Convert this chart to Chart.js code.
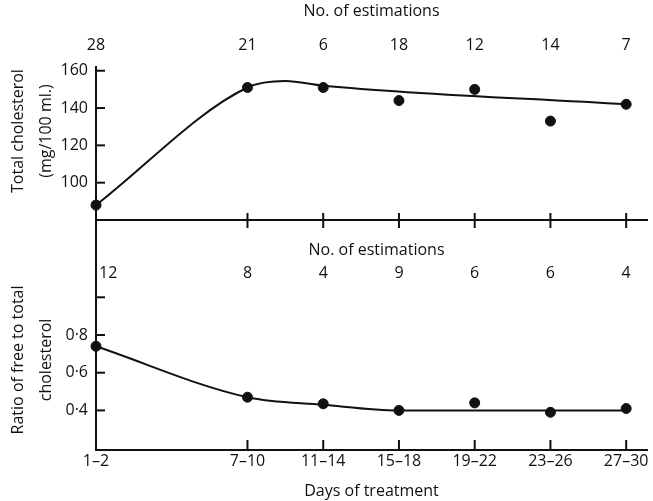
<!DOCTYPE html>
<html>
<head>
<meta charset="utf-8">
<script src="https://cdn.jsdelivr.net/npm/chart.js@4"></script>
<style>
  body { margin: 0; background: #fff; }
  #wrap { position: relative; width: 653px; height: 501px; }
  canvas { position: absolute; left: 0; top: 0; }
</style>
</head>
<body>
<div id="wrap">
  <canvas id="upper" width="653" height="501"></canvas>
  <canvas id="lower" width="653" height="501"></canvas>
</div>
<script>
// Day groups on a linear day axis, and their labels
const days = [0.5, 8.5, 12.5, 16.5, 20.5, 24.5, 28.5];
const dayLabels = ['1–2', '7–10', '11–14', '15–18', '19–22', '23–26', '27–30'];

// Upper panel: total cholesterol (mg/100 ml.)
const totalChol = [88, 151, 151, 144, 150, 133, 142];
const totalCount = [28, 21, 6, 18, 12, 14, 7];
const totalFitDays = [0.5, 8.5, 10.5, 12.5, 28.5];
const totalFit = [88, 151, 154.5, 152, 142];
const totalTicks = [100, 120, 140, 160];

// Lower panel: ratio of free to total cholesterol
const ratio = [0.74, 0.47, 0.435, 0.40, 0.44, 0.39, 0.41];
const ratioCount = [12, 8, 4, 9, 6, 6, 4];
const ratioFitDays = [0.5, 8.5, 12.5, 16.5, 28.5];
const ratioFit = [0.74, 0.47, 0.43, 0.40, 0.40];
const ratioTicks = [0.4, 0.6, 0.8, 1.0];

const ink = '#111';
const fam = "'Open Sans'";
const font = { family: fam, size: 16 };
Chart.defaults.color = ink;
Chart.defaults.font.family = fam;

const pts = (xs, ys) => xs.map((x, i) => ({ x, y: ys[i] }));

// short tick marks drawn inside the frame, like the printed figure
const innerTicks = {
  id: 'innerTicks',
  afterDraw(chart, args, opts) {
    const { ctx, chartArea, scales } = chart;
    ctx.save();
    ctx.strokeStyle = ink;
    ctx.lineWidth = 2;
    scales.y.ticks.forEach(t => {
      const py = scales.y.getPixelForValue(t.value);
      ctx.beginPath();
      ctx.moveTo(chartArea.left, py);
      ctx.lineTo(chartArea.left + 9, py);
      ctx.stroke();
    });
    days.slice(1).forEach(d => {
      const px = scales.x.getPixelForValue(d);
      ctx.beginPath();
      ctx.moveTo(px, chartArea.bottom + opts.below);
      ctx.lineTo(px, chartArea.bottom - opts.above);
      ctx.stroke();
    });
    if (opts.counts) {
      ctx.fillStyle = ink;
      ctx.font = "16px " + fam;
      ctx.textAlign = 'center';
      ctx.textBaseline = 'middle';
      ctx.fillText('No. of estimations', (chartArea.left + chartArea.right) / 2 + 5, chartArea.top + 30);
      opts.counts.forEach((c, i) => {
        const px = scales.x.getPixelForValue(days[i]);
        ctx.textAlign = i == 0 ? 'left' : 'center';
        ctx.fillText(String(c), i == 0 ? px + 3 : px, chartArea.top + 53);
      });
    }
    ctx.restore();
  }
};

const dots = (xs, ys) => ({
  data: pts(xs, ys),
  showLine: false,
  clip: false,
  pointRadius: 5,
  pointBackgroundColor: ink,
  pointBorderColor: ink,
});
const fit = (xs, ys) => ({
  data: pts(xs, ys),
  borderColor: ink,
  borderWidth: 2,
  pointRadius: 0,
  clip: false,
  cubicInterpolationMode: 'monotone',
});

const frame = { display: true, color: ink, width: 2 };
const noGrid = { display: false, drawTicks: false };
const titleFont = { family: fam, size: 16, lineHeight: 1.75 };

new Chart(document.getElementById('upper'), {
  type: 'line',
  data: { datasets: [fit(totalFitDays, totalFit), dots(days, totalChol)] },
  options: {
    responsive: false,
    animation: false,
    layout: { padding: { left: 0, right: 1, top: 0, bottom: 281 } },
    plugins: {
      legend: { display: false },
      tooltip: { enabled: false },
      innerTicks: { below: 8, above: 7 }
    },
    scales: {
      x: {
        type: 'linear',
        position: 'top',
        min: 0.5,
        max: 29.6,
        afterBuildTicks: s => { s.ticks = days.map(v => ({ value: v })); },
        afterFit: s => { s.height = 67; },
        ticks: { font, maxRotation: 0, autoSkip: false, padding: 12, callback: (v, i) => totalCount[i] },
        grid: noGrid,
        border: { display: false },
        title: { display: true, text: 'No. of estimations', font, padding: { top: 2, bottom: 0 } }
      },
      xb: {
        type: 'linear',
        position: 'bottom',
        min: 0.5,
        max: 29.6,
        afterFit: s => { s.height = 0; },
        ticks: { display: false },
        grid: noGrid,
        border: frame
      },
      y: {
        min: 80,
        max: 162,
        afterBuildTicks: s => { s.ticks = totalTicks.map(v => ({ value: v })); },
        afterFit: s => { s.width = 96; },
        ticks: { font, padding: 8 },
        grid: noGrid,
        border: frame,
        // leading spaces lift the title a little, as in the print
        title: { display: true, text: ['      Total cholesterol', '      (mg/100 ml.)'], font: titleFont, padding: { top: 4, bottom: 0 } }
      }
    }
  },
  plugins: [innerTicks]
});

new Chart(document.getElementById('lower'), {
  type: 'line',
  data: { datasets: [fit(ratioFitDays, ratioFit), dots(days, ratio)] },
  options: {
    responsive: false,
    animation: false,
    layout: { padding: { left: 0, right: 1, top: 220, bottom: 0 } },
    plugins: {
      legend: { display: false },
      tooltip: { enabled: false },
      innerTicks: { below: 0, above: 10, counts: ratioCount }
    },
    scales: {
      x: {
        type: 'linear',
        min: 0.5,
        max: 29.6,
        afterBuildTicks: s => { s.ticks = days.map(v => ({ value: v })); },
        afterFit: s => { s.height = 51; },
        ticks: { font, maxRotation: 0, autoSkip: false, padding: 2, callback: (v, i) => dayLabels[i] },
        grid: noGrid,
        border: frame,
        title: { display: true, text: 'Days of treatment', font, padding: { top: 2, bottom: 0 } }
      },
      y: {
        min: 0.19,
        max: 1.41,
        afterBuildTicks: s => { s.ticks = ratioTicks.map(v => ({ value: v })); },
        afterFit: s => { s.width = 96; },
        ticks: { font, padding: 8, callback: v => v > 0.9 ? '' : v.toFixed(1).replace('.', '·') },
        grid: noGrid,
        border: frame,
        // trailing spaces push the title down toward the data
        title: { display: true, text: ['Ratio of free to total            ', 'cholesterol            '], font: titleFont, padding: { top: 4, bottom: 0 } }
      }
    }
  },
  plugins: [innerTicks]
});
</script>
</body>
</html>
